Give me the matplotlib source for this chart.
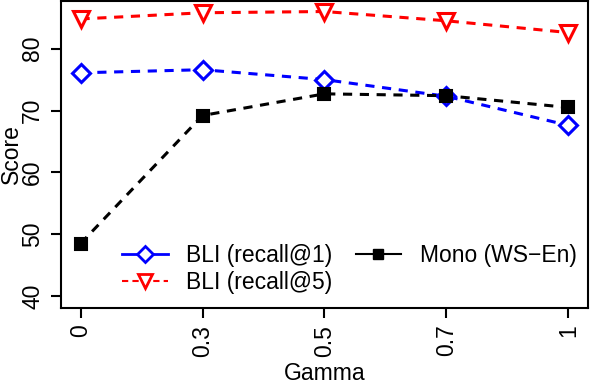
import matplotlib
matplotlib.use("Agg")
import matplotlib.pyplot as plt
from matplotlib.lines import Line2D

plt.rcParams['font.family'] = ['Liberation Sans', 'DejaVu Sans']

gamma_labels = ["0", "0.3", "0.5", "0.7", "1"]
recall1 = [76.1, 76.6, 75.0, 72.3, 67.6]
recall5 = [84.8, 85.8, 86.0, 84.5, 82.6]
mono = [48.5, 69.2, 72.7, 72.4, 70.5]

xs = list(range(1, len(gamma_labels) + 1))
fs = 16.5

fig = plt.figure(figsize=(5.9, 3.84), dpi=100)
ax = fig.add_axes([61 / 590, 1 - 308 / 384, 527 / 590, 307 / 384])

dash = (0, (3, 2.5))
ax.plot(xs, recall1, color="blue", lw=2.2, linestyle=dash, marker="D",
        markersize=9, markerfacecolor="white", markeredgewidth=2.2, zorder=3)
ax.plot(xs, recall5, color="red", lw=2.2, linestyle=dash, marker="v",
        markersize=11, markerfacecolor="white", markeredgewidth=2.2, zorder=3)
ax.plot(xs, mono, color="black", lw=2.2, linestyle=dash, marker="s",
        markersize=8.5, markerfacecolor="black", markeredgewidth=1.5, zorder=3)

ax.set_xlim(0.84, 5.16)
ax.set_ylim(38.1, 87.7)
ax.set_xticks(xs)
ax.set_xticklabels(gamma_labels, rotation=90, fontsize=fs)
ax.set_yticks([40, 50, 60, 70, 80])
ax.set_yticklabels(["40", "50", "60", "70", "80"], rotation=90, va="center", fontsize=fs)
ax.tick_params(length=7, width=1.5, pad=5)
for s in ax.spines.values():
    s.set_linewidth(1.5)

ax.set_xlabel("Gamma", fontsize=fs)
ax.set_ylabel("Score", fontsize=fs)
ax.xaxis.set_label_coords(0.5, -0.176)
ax.yaxis.set_label_coords(-0.073, 0.5)

handles = [
    Line2D([], [], color="blue", lw=2, marker="D", markersize=8,
           markerfacecolor="white", markeredgewidth=2),
    Line2D([], [], color="red", lw=1.5, linestyle=(0, (3, 2)), marker="v",
           markersize=10, markerfacecolor="white", markeredgewidth=2),
    Line2D([], [], color="black", lw=1.5, marker="s", markersize=7,
           markerfacecolor="black"),
]
labels = ["BLI (recall@1)", "BLI (recall@5)", "Mono (WS\u2212En)"]
ax.legend(handles, labels, ncol=2, frameon=False, fontsize=fs,
          loc="lower left", bbox_to_anchor=(0.09, 0.0), handlelength=2.0,
          handletextpad=0.8, columnspacing=1.0, labelspacing=0.2,
          borderaxespad=0.2)

fig.savefig("out.png", dpi=100)
